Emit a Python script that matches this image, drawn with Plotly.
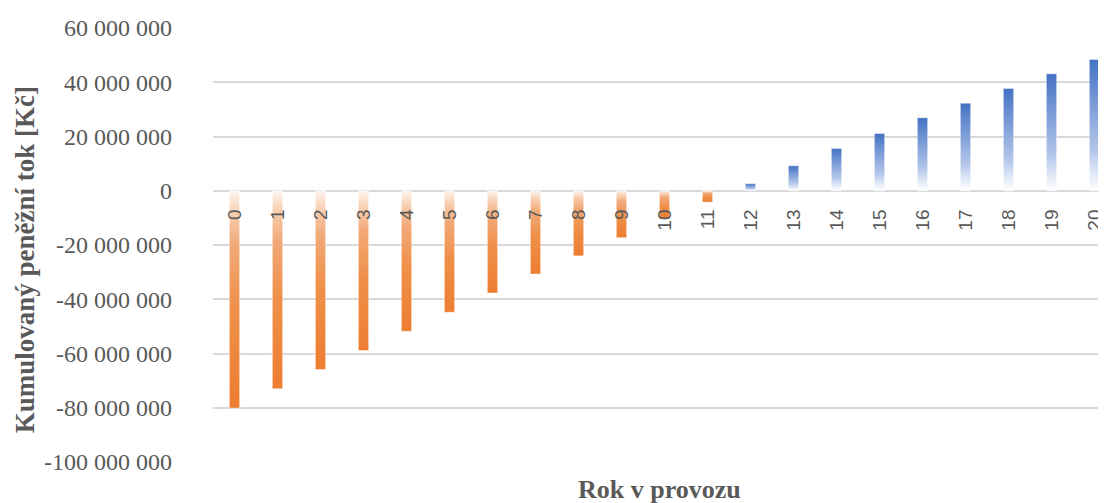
import plotly.graph_objects as go

# ---- data ----
years = list(range(0, 21))
cum_cash_flow = [
    -80.1e6, -73.0e6, -65.9e6, -58.9e6, -51.8e6, -44.8e6, -37.7e6, -30.7e6,
    -24.0e6, -17.3e6, -10.4e6, -4.2e6, 2.6e6, 9.2e6, 15.6e6, 21.1e6,
    26.9e6, 32.3e6, 37.7e6, 43.1e6, 48.4e6,
]
y_tick_vals = [60e6, 40e6, 20e6, 0, -20e6, -40e6, -60e6, -80e6, -100e6]
y_tick_text = ["60 000 000", "40 000 000", "20 000 000", "0", "-20 000 000",
               "-40 000 000", "-60 000 000", "-80 000 000", "-100 000 000"]
x_title = "Rok v provozu"
y_title = "Kumulovaný peněžní tok [Kč]"

# ---- style ----
# page body has an 8px margin, so the figure is made 8px smaller
W, H = 1098, 495
ML, MR, MT, MB = 205, 0, 20, 41
Y_MIN, Y_MAX = -100e6, 60e6
CAT_PX = 43.0
BAR_W = 0.24
GREY = "#595959"
GRID = "#D9D9D9"

orange_scale = [[0.0, "#ED7D31"], [0.45, "#EF9049"], [0.75, "#F2A978"],
                [0.9, "#F8D0B3"], [1.0, "#FEF5EF"]]
blue_scale = [[0.0, "#FFFFFF"], [0.12, "#E4EBF7"], [0.3, "#B4C7EA"],
              [0.65, "#7D9DD8"], [1.0, "#4472C4"]]

fig = go.Figure()
for yr, val in zip(years, cum_cash_flow):
    x0, x1 = yr - BAR_W / 2, yr + BAR_W / 2
    scale = orange_scale if val < 0 else blue_scale
    fig.add_trace(go.Scatter(
        x=[x0, x1, x1, x0, x0],
        y=[0, 0, val, val, 0],
        mode="lines",
        fill="toself",
        fillgradient=dict(type="vertical", colorscale=scale),
        line=dict(width=0.8, color="rgba(255,255,255,0.55)"),
        hoverinfo="skip",
        showlegend=False,
    ))

plot_w = W - ML - MR
x_span = plot_w / CAT_PX
x_range = [-0.5, -0.5 + x_span]
zero_pos = (0 - Y_MIN) / (Y_MAX - Y_MIN)

fig.update_layout(
    width=W, height=H,
    margin=dict(l=ML, r=MR, t=MT, b=MB, pad=0, autoexpand=False),
    paper_bgcolor="white", plot_bgcolor="white",
    xaxis=dict(
        range=x_range, automargin=False,
        tickmode="array", tickvals=years, ticktext=[str(v) for v in years],
        tickangle=-90,
        tickfont=dict(family="Liberation Sans", size=19, color=GREY),
        anchor="free", position=zero_pos, side="bottom",
        showgrid=False, zeroline=False, showline=False, ticks="",
        ticklabelstandoff=14,
    ),
    yaxis=dict(
        range=[Y_MIN, Y_MAX], automargin=False,
        tickmode="array", tickvals=y_tick_vals, ticktext=y_tick_text,
        tickfont=dict(family="Liberation Serif", size=24, color=GREY),
        showgrid=True, gridcolor=GRID, gridwidth=1.5,
        zeroline=True, zerolinecolor=GRID, zerolinewidth=1.5,
        showline=False, ticks="",
        ticklabelstandoff=40,
    ),
    annotations=[
        dict(text=f"<b>{x_title}</b>", xref="paper", yref="paper",
             x=0.5, y=0, xanchor="center", yanchor="middle", yshift=-27,
             showarrow=False,
             font=dict(family="Liberation Serif", size=26, color=GREY)),
        dict(text=f"<b>{y_title}</b>", xref="paper", yref="paper",
             x=0, y=0.465, xanchor="center", yanchor="middle", xshift=-188,
             textangle=-90, showarrow=False, borderpad=0,
             font=dict(family="Liberation Serif", size=27, color=GREY)),
    ],
)

fig.write_html("out.html")
